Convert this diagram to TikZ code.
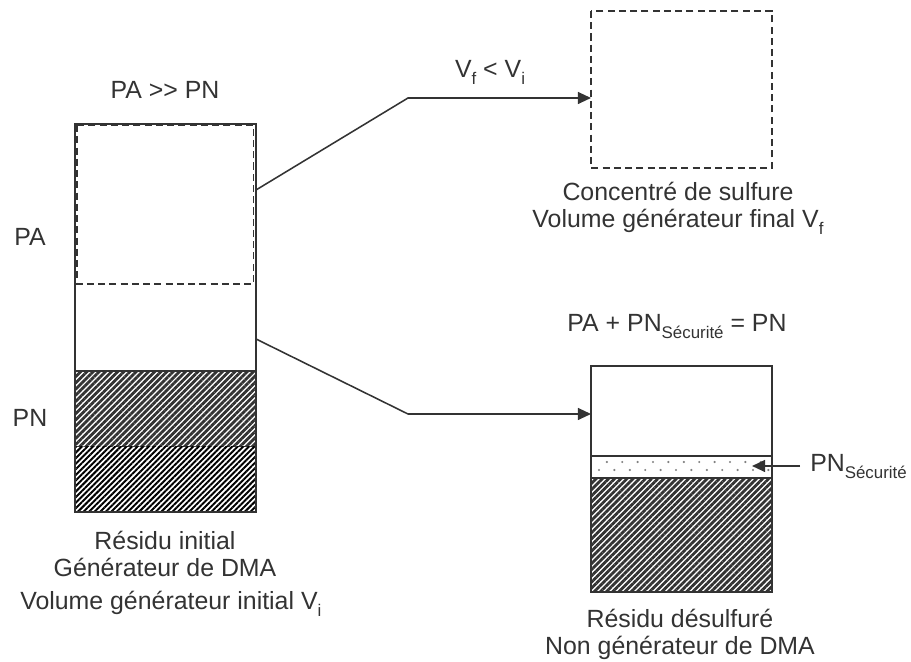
\documentclass[tikz,border=0pt]{standalone}
\usepackage{fontspec}
\setmainfont{Liberation Sans}
\usetikzlibrary{arrows.meta,patterns.meta}
\definecolor{ink}{HTML}{333333}
\newcommand{\lowidx}[1]{\raisebox{-0.28em}{\fontsize{12}{12}\selectfont #1}}
\tikzset{
  edge/.style={line width=1.1pt},
  dashedge/.style={line width=1.1pt,dash pattern=on 5pt off 3pt},
  hatch/.style={pattern={Lines[angle=45,distance=3.1pt,line width=2pt]},pattern color=ink},
  flow/.style={line width=1.1pt,-{Triangle[length=0.33cm,width=0.3cm]}}
}

\begin{document}
\begin{tikzpicture}[font=\fontsize{17.7}{19.2}\selectfont, color=ink]
\useasboundingbox (0,0) rectangle (22.775,16.55);
% left column: initial residue
\fill[hatch] (1.875,7.275) rectangle (6.4,5.375);
\fill[pattern={Lines[angle=45,distance=2.8pt,line width=1.4pt]},pattern color=black] (1.875,5.375) rectangle (6.4,3.75);
\draw[edge] (1.875,7.275) -- (6.4,7.275);
\draw[edge] (1.875,3.75) rectangle (6.4,13.45);
\draw[dashedge] (1.925,13.42) rectangle (6.34,9.45);
% right top: concentrate
\draw[dashedge] (14.775,16.275) rectangle (19.3,12.35);
% right bottom: desulfurised residue
\fill[hatch] (14.775,4.6) rectangle (19.3,1.75);
\foreach \i in {0,...,10} \fill[gray] (15.17+\i*0.385,5.0) circle (0.03);
\foreach \i in {0,...,11} \fill[gray] (14.975+\i*0.385,4.8) circle (0.03);
\draw[edge] (14.775,5.15) -- (19.3,5.15);
\draw[edge] (14.775,4.6) -- (19.3,4.6);
\draw[edge] (14.775,1.75) rectangle (19.3,7.4);
% connectors
\coordinate (outA) at (6.4,11.8);
\coordinate (kneeA) at (10.2,14.1);
\coordinate (conc) at (14.775,14.1);
\coordinate (outB) at (6.4,8.075);
\coordinate (kneeB) at (10.2,6.2);
\coordinate (desulf) at (14.775,6.2);
\coordinate (secFrom) at (20.0,4.9);
\coordinate (secTo) at (18.8,4.9);
\draw[flow] (outA) -- (kneeA) -- (conc);
\draw[flow] (outB) -- (kneeB) -- (desulf);
\draw[flow] (secFrom) -- (secTo);
% labels
\node (paPn) at (4.125,14.3) {PA >{}> PN};
\node (pa) at (0.75,10.625) {PA};
\node (pn) at (0.75,6.1) {PN};
\node[align=center,inner sep=0pt] (resInit) at (4.125,2.7) {Résidu initial\\Générateur de DMA};
\node[anchor=west,inner sep=0pt] (volInit) at (0.5,1.45) {Volume générateur initial V\lowidx{i}};
\node[inner sep=0pt] (vfVi) at (12.25,14.75) {V\lowidx{f} < V\lowidx{i}};
\node[align=center,inner sep=0pt] (concLbl) at (16.95,11.35) {Concentré de sulfure\\Volume générateur final V\lowidx{f}};
\node[inner sep=0pt] (equ) at (16.925,8.375) {PA + PN\lowidx{Sécurité} = PN};
\node[anchor=base west,inner sep=0pt] (pnSec) at (20.25,4.75) {PN\lowidx{Sécurité}};
\node[align=center,inner sep=0pt] (resDes) at (17.0,0.7) {Résidu désulfuré\\Non générateur de DMA};
\end{tikzpicture}
\end{document}
